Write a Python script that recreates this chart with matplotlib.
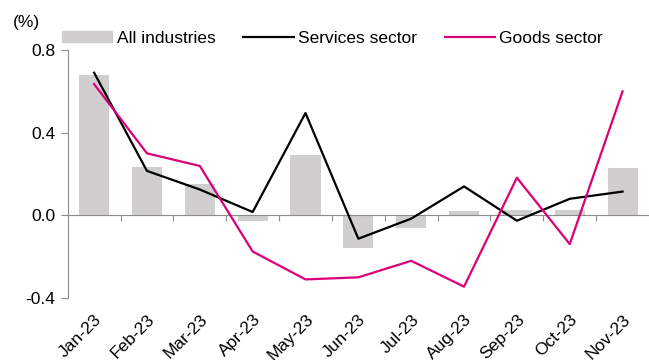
import numpy as np
import matplotlib.pyplot as plt
from matplotlib.patches import Patch
from matplotlib.lines import Line2D

plt.rcParams['font.family'] = ['Liberation Sans', 'DejaVu Sans']

months = ['Jan-23', 'Feb-23', 'Mar-23', 'Apr-23', 'May-23', 'Jun-23',
          'Jul-23', 'Aug-23', 'Sep-23', 'Oct-23', 'Nov-23']
all_industries = [0.677, 0.236, 0.152, -0.029, 0.292, -0.157,
                  -0.063, 0.019, 0.026, 0.027, 0.231]
services = [0.69, 0.215, 0.125, 0.016, 0.495, -0.113,
            -0.016, 0.14, -0.026, 0.08, 0.115]
goods = [0.635, 0.30, 0.239, -0.175, -0.31, -0.30,
         -0.22, -0.345, 0.182, -0.139, 0.60]

bar_color = '#D0CECF'
goods_color = '#DC0078'
axis_color = '#8C8C8C'
fs = 12.5

fig = plt.figure(figsize=(6.49, 3.60), dpi=100)
ax = fig.add_axes([0.1043, 0.1722, 0.8957, 0.6889])

x = np.arange(len(months))
ax.bar(x, all_industries, width=0.57, color=bar_color, zorder=1)
ax.plot(x, services, color='black', lw=1.6, zorder=3)
ax.plot(x, goods, color=goods_color, lw=1.6, zorder=3)

ax.set_xlim(-0.5, len(months) - 0.5)
ax.set_ylim(-0.4, 0.8)
ax.set_yticks([-0.4, 0.0, 0.4, 0.8])
ax.set_yticklabels(['-0.4', '0.0', '0.4', '0.8'], fontsize=fs)
ax.tick_params(axis='y', length=5, width=0.8, color=axis_color, pad=4)

ax.set_xticks(x)
ax.set_xticklabels(months, rotation=45, ha='right', rotation_mode='anchor', fontsize=fs)
ax.tick_params(axis='x', length=0, pad=10)

for s in ['top', 'right', 'bottom']:
    ax.spines[s].set_visible(False)
ax.spines['left'].set_color(axis_color)
ax.spines['left'].set_linewidth(0.8)

# zero line with ticks between the categories
zero_ax = ax.secondary_xaxis(0.4 / 1.2)
zero_ax.set_xticks(x[:-1] + 0.5)
zero_ax.set_xticklabels([])
zero_ax.tick_params(length=4, width=0.8, color=axis_color)
zero_ax.spines['bottom'].set_color(axis_color)
zero_ax.spines['bottom'].set_linewidth(0.8)
zero_ax.set_zorder(2)

handles = [Patch(color=bar_color, label='All industries'),
           Line2D([], [], color='black', lw=1.6, label='Services sector'),
           Line2D([], [], color=goods_color, lw=1.6, label='Goods sector')]
fig.legend(handles=handles, loc='center left', bbox_to_anchor=(0.0955, 0.894),
           ncol=3, frameon=False, fontsize=fs, handlelength=2.9, handleheight=0.57,
           handletextpad=0.25, columnspacing=1.6, borderpad=0, borderaxespad=0)

fig.text(0.02, 1 - 22 / 360, '(%)', fontsize=fs, ha='left', va='center')

fig.savefig('out.png', dpi=100)
